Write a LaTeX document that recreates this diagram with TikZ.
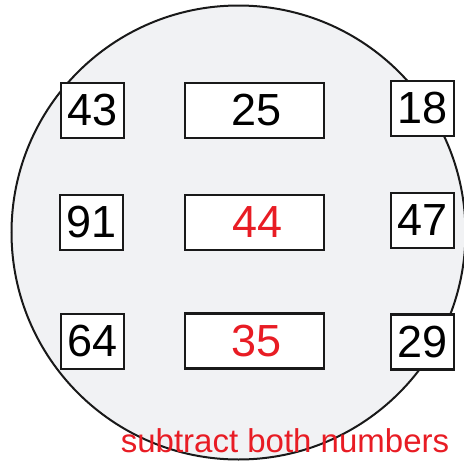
\documentclass[tikz,border=0pt]{standalone}
\usepackage{fontspec}
\setmainfont{Liberation Sans}
\definecolor{numred}{RGB}{232,28,36}
\definecolor{discfill}{RGB}{241,242,244}
\begin{document}
\begin{tikzpicture}[x=1pt,y=-1pt,
  numbox/.style={draw=black!90,line width=2.2pt,fill=white,inner sep=0pt,minimum height=55pt,font=\fontsize{45}{45}\selectfont},
  smallbox/.style={numbox,minimum width=63pt},
  widebox/.style={numbox,minimum width=139pt},
  hint/.style={text=numred,font=\fontsize{33}{33}\selectfont,inner sep=0pt,anchor=base}]
\useasboundingbox (0,0) rectangle (464,461);
\node[draw=black!90,line width=2pt,fill=discfill,circle,minimum size=454pt,inner sep=0pt] (disc) at (238.5,232.5) {};
\node[smallbox] (a) at (92.5,110.5) {43};
\node[widebox] (b) at (254.5,110.5) {\hspace{4pt}25};
\node[smallbox] (c) at (422.5,108.5) {18};
\node[smallbox] (d) at (91.5,222.5) {91};
\node[widebox,text=numred] (e) at (254.5,222.5) {\hspace{6pt}44};
\node[smallbox] (f) at (422.5,220.5) {47};
\node[smallbox] (g) at (92.5,341.5) {64};
\node[widebox,text=numred] (h) at (254.5,341) {\hspace{5pt}35};
\node[smallbox] (i) at (422.5,342) {29};
\node[hint] (t) at (285,452) {subtract both numbers};
\end{tikzpicture}
\end{document}
